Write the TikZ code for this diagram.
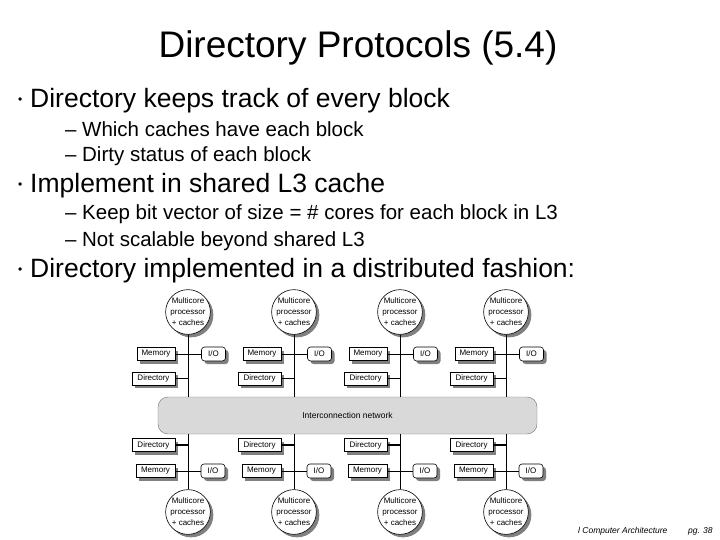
\documentclass[tikz,border=0pt]{standalone}
\usepackage{fontspec}
\setmainfont{Liberation Sans}
\usetikzlibrary{positioning, shadows}
\newcommand{\bul}{\makebox[12pt][l]{\raisebox{4pt}{\fontsize{12}{12}\selectfont\textbullet}}}
\newcommand{\dsh}{\makebox[17pt][l]{--}}

\begin{document}
\begin{tikzpicture}[x=1pt, y=-1pt,
    shd/.style={drop shadow={shadow xshift=3pt, shadow yshift=-3pt, fill=black!50, opacity=1}},
    box/.style={draw, fill=white, shd, line width=0.6pt, inner sep=0pt, minimum height=13pt,
      font=\fontsize{8}{9}\selectfont},
    iobox/.style={box, rounded corners=3pt, minimum width=24pt, minimum height=14pt},
    cpu/.style={circle, draw, fill=white, shd, line width=0.6pt, minimum size=44pt, inner sep=0pt,
      align=center, font=\fontsize{8}{11}\selectfont},
    net/.style={draw=black!55, fill=black!15, rounded corners=10pt, minimum width=379pt,
      minimum height=37pt, font=\fontsize{8.5}{10}\selectfont},
    lvl1/.style={anchor=base west, inner sep=0pt, font=\fontsize{26.5}{30}\selectfont},
    lvl2/.style={anchor=base west, inner sep=0pt, font=\fontsize{20.5}{24}\selectfont},
    foot/.style={anchor=base west, inner sep=0pt, font=\fontsize{8.5}{10}\selectfont\itshape}]
    \useasboundingbox[fill=white] (0,0) rectangle (720,540);

    % slide text
    \node[anchor=base, inner sep=0pt, font=\fontsize{37}{44}\selectfont] (title) at (358,58) {Directory Protocols (5.4)};
    \node[lvl1] (b1)  at (18,108) {\bul Directory keeps track of every block};
    \node[lvl2] (b11) at (65,137) {\dsh Which caches have each block};
    \node[lvl2] (b12) at (65,162) {\dsh Dirty status of each block};
    \node[lvl1] (b2)  at (18,193) {\bul Implement in shared L3 cache};
    \node[lvl2] (b21) at (65,220) {\dsh Keep bit vector of size = \# cores for each block in L3};
    \node[lvl2] (b22) at (65,246) {\dsh Not scalable beyond shared L3};
    \node[lvl1] (b3)  at (18,277) {\bul Directory implemented in a distributed fashion:};

    % distributed directory
    \node[net] (net) at (347.5,415.5) {Interconnection network};
    \foreach \i/\x in {1/188, 2/294, 3/400, 4/506} {
      \node[cpu] (pu\i) at (\x,312) {Multicore\\processor\\+ caches};
      \node[box, minimum width=38pt] (mu\i) at (\x-32,354) {Memory};
      \node[iobox] (iu\i) at (\x+25.5,354) {I/O};
      \node[box, minimum width=43pt] (du\i) at (\x-34.5,378.5) {Directory};
      \draw (pu\i.south) -- (pu\i.south |- net.north);
      \draw (mu\i) -- (iu\i);
      \draw (du\i.east) -- (du\i.east -| pu\i.south);
      \node[box, minimum width=43pt] (dl\i) at (\x-34.5,445) {Directory};
      \node[box, minimum width=39pt] (ml\i) at (\x-32.5,471) {Memory};
      \node[iobox] (il\i) at (\x+25,471) {I/O};
      \node[cpu] (pl\i) at (\x,512) {Multicore\\processor\\+ caches};
      \draw (pl\i.north) -- (pl\i.north |- net.south);
      \draw (ml\i) -- (il\i);
      \draw[line width=1.4pt] (dl\i.east) -- (dl\i.east -| pl\i.north);
    }

    \node[foot] (course) at (578,533) {l Computer Architecture};
    \node[foot] (page) at (688,533) {pg. 38};
  \end{tikzpicture}
\end{document}
